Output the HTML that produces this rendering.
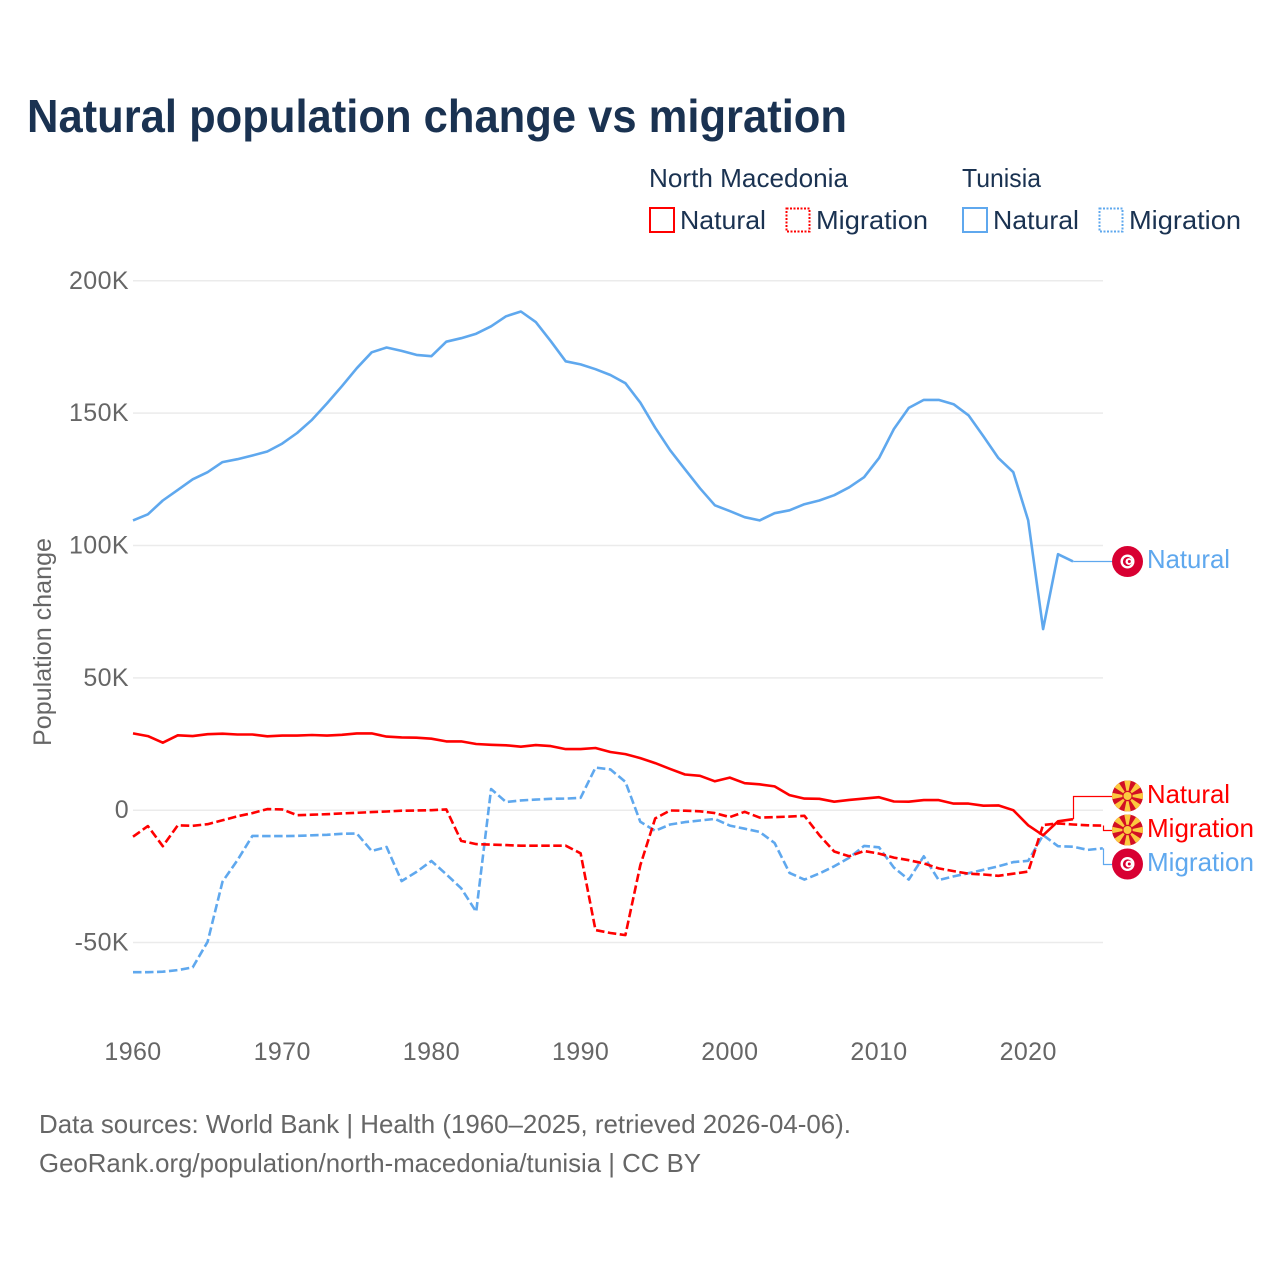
<!DOCTYPE html>
<html lang="en">
<head>
<meta charset="utf-8">
<title>Natural population change vs migration</title>
<style>
html,body{margin:0;padding:0;background:#fff;}
svg{display:block;font-family:"Liberation Sans",sans-serif;}
.grid{stroke:#ebebeb;stroke-width:1.5;}
.tick{fill:#666;font-size:25px;letter-spacing:.4px;}
.legend{fill:#1a3251;font-size:26px;}
.src{fill:#666;font-size:26px;}
.lab{font-size:26px;}
</style>
</head>
<body>
<svg id="chart" width="1280" height="1280" viewBox="0 0 1280 1280" xmlns="http://www.w3.org/2000/svg">
<defs>
  <clipPath id="flag-clip"><circle cx="0" cy="0" r="15.5"/></clipPath>
  <g id="flag-mk" clip-path="url(#flag-clip)">
    <rect x="-16" y="-16" width="32" height="32" fill="#d20f24"/>
    <g fill="#fcc93f">
      <polygon points="0,0 -3.4,-16 3.4,-16"/>
      <polygon points="0,0 -3.4,16 3.4,16"/>
      <polygon points="0,0 -16,-3.4 -16,3.4"/>
      <polygon points="0,0 16,-3.4 16,3.4"/>
      <polygon points="0,0 -13.7,-9 -9,-13.7"/>
      <polygon points="0,0 13.7,-9 9,-13.7"/>
      <polygon points="0,0 -13.7,9 -9,13.7"/>
      <polygon points="0,0 13.7,9 9,13.7"/>
    </g>
    <circle r="5.2" fill="#d20f24"/>
    <circle r="4" fill="#fcc93f"/>
  </g>
  <g id="flag-tn" clip-path="url(#flag-clip)">
    <rect x="-16" y="-16" width="32" height="32" fill="#d80032"/>
    <circle r="7" fill="#fff"/>
    <circle r="4.6" fill="#d80032"/>
    <circle cx="1.4" r="3.4" fill="#fff"/>
    <circle cx="1.8" r="1.5" fill="#d80032"/>
  </g>
</defs>

<text x="27" y="132" font-size="46" font-weight="700" fill="#1a3251" textLength="820" lengthAdjust="spacingAndGlyphs">Natural population change vs migration</text>

<g>
  <text class="legend" x="649" y="187" textLength="199" lengthAdjust="spacingAndGlyphs">North Macedonia</text>
  <text class="legend" x="962" y="187" textLength="79" lengthAdjust="spacingAndGlyphs">Tunisia</text>
  <rect x="650" y="208" width="24" height="24" fill="none" stroke="#ff0000" stroke-width="2"/>
  <text class="legend" x="680" y="229" textLength="86" lengthAdjust="spacingAndGlyphs">Natural</text>
  <rect x="786.5" y="208.5" width="23" height="23" fill="none" stroke="#ff0000" stroke-width="2" stroke-dasharray="2 1.5"/>
  <text class="legend" x="816" y="229" textLength="112" lengthAdjust="spacingAndGlyphs">Migration</text>
  <rect x="963" y="208" width="24" height="24" fill="none" stroke="#5fa8ee" stroke-width="2"/>
  <text class="legend" x="993" y="229" textLength="86" lengthAdjust="spacingAndGlyphs">Natural</text>
  <rect x="1099.5" y="208.5" width="23" height="23" fill="none" stroke="#5fa8ee" stroke-width="2" stroke-dasharray="2 1.5"/>
  <text class="legend" x="1129" y="229" textLength="112" lengthAdjust="spacingAndGlyphs">Migration</text>
</g>

<g id="grid-layer"></g>
<g id="ytick-layer"></g>
<g id="xtick-layer"></g>
<g id="line-layer"></g>

<text transform="translate(51,642) rotate(-90)" text-anchor="middle" font-size="25" fill="#666" textLength="208" lengthAdjust="spacingAndGlyphs">Population change</text>

<g>
  <use href="#flag-tn" x="1127.5" y="561.5"/>
  <text class="lab" x="1147" y="568" fill="#5fa8ee" textLength="83" lengthAdjust="spacingAndGlyphs">Natural</text>
  <use href="#flag-mk" x="1127.5" y="796"/>
  <text class="lab" x="1147" y="803" fill="#ff0000" textLength="83" lengthAdjust="spacingAndGlyphs">Natural</text>
  <use href="#flag-mk" x="1127.5" y="830"/>
  <text class="lab" x="1147" y="837" fill="#ff0000" textLength="107" lengthAdjust="spacingAndGlyphs">Migration</text>
  <use href="#flag-tn" x="1127.5" y="864"/>
  <text class="lab" x="1147" y="871" fill="#5fa8ee" textLength="107" lengthAdjust="spacingAndGlyphs">Migration</text>
</g>

<text class="src" x="39" y="1133" textLength="812" lengthAdjust="spacingAndGlyphs">Data sources: World Bank | Health (1960–2025, retrieved 2026-04-06).</text>
<text class="src" x="39" y="1172" textLength="662" lengthAdjust="spacingAndGlyphs">GeoRank.org/population/north-macedonia/tunisia | CC BY</text>

<script>
// Chart data, in thousands of people per year, starting 1960
var startYear = 1960;
var xTickYears = [1960, 1970, 1980, 1990, 2000, 2010, 2020];
var yTickValues = [200, 150, 100, 50, 0, -50];
var yTickLabels = ["200K", "150K", "100K", "50K", "0", "-50K"];

var tnNatural = [109.5,111.8,117,121,125,127.7,131.5,132.6,134,135.5,138.5,142.5,147.5,153.7,160.2,167,173,174.8,173.5,172,171.5,177,178.3,180,182.8,186.6,188.4,184.4,177.2,169.6,168.4,166.6,164.4,161.3,154,144.5,136,128.8,121.6,115.2,113,110.7,109.5,112.2,113.3,115.6,117,119,122,125.8,133,144,152,155,155,153.4,149.2,141.3,133,127.7,109.5,68.4,96.7,94];
var mkNatural = [29,28,25.5,28.3,28,28.7,28.9,28.6,28.6,27.9,28.2,28.2,28.4,28.2,28.5,29,29,27.8,27.5,27.4,27,26,26,25,24.7,24.5,24,24.6,24.2,23.1,23.1,23.5,22,21.2,19.7,17.8,15.6,13.5,13,10.9,12.3,10.2,9.8,9,5.7,4.4,4.3,3.2,3.9,4.4,4.9,3.3,3.2,3.8,3.8,2.5,2.5,1.7,1.8,0,-5.7,-9.5,-4.2,-3.4];
var mkMigration = [-10,-6,-13.6,-5.7,-5.9,-5.3,-3.8,-2.3,-1.1,0.4,0.3,-1.9,-1.7,-1.5,-1.2,-1,-0.7,-0.5,-0.2,-0.1,0,0.3,-11.6,-12.8,-13,-13.2,-13.4,-13.4,-13.4,-13.4,-16.3,-45.3,-46.4,-47.2,-20.8,-3.1,-0.1,-0.2,-0.4,-1.1,-2.6,-0.6,-2.8,-2.6,-2.4,-2.1,-9.4,-15.6,-17.4,-15.4,-16.4,-17.9,-18.9,-20.1,-22,-23,-24,-24.3,-24.8,-24,-23.2,-5.6,-5,-5.4,-5.7,-5.8];
var tnMigration = [-61.2,-61.2,-61,-60.4,-59.4,-49.7,-27,-18.9,-9.7,-9.8,-9.8,-9.7,-9.5,-9.3,-8.9,-8.8,-15.4,-13.9,-26.8,-23.3,-19.2,-24.2,-29.5,-38.4,8,3.1,3.7,4,4.3,4.4,4.7,16.1,15.4,10.7,-4.4,-7.8,-5.4,-4.5,-3.9,-3.3,-5.8,-7,-8.2,-12.4,-23.7,-26.2,-23.9,-21.2,-18,-13.5,-14,-21.7,-26.2,-17.4,-26.4,-25,-23.8,-22.5,-21.2,-19.6,-19.1,-9.4,-13.6,-13.8,-15,-14.4];

var NS = "http://www.w3.org/2000/svg";
function xScale(year) { return 133 + (year - 1960) * 14.92; }
function yScale(v) { return 810.2 - v * 2.647; }

var gridLayer = document.getElementById("grid-layer");
var yLayer = document.getElementById("ytick-layer");
var xLayer = document.getElementById("xtick-layer");
var lineLayer = document.getElementById("line-layer");

yTickValues.forEach(function (v, i) {
  var g = document.createElementNS(NS, "line");
  g.setAttribute("class", "grid");
  g.setAttribute("x1", 133);
  g.setAttribute("x2", 1103);
  g.setAttribute("y1", yScale(v));
  g.setAttribute("y2", yScale(v));
  
  
  gridLayer.appendChild(g);
  var t = document.createElementNS(NS, "text");
  t.setAttribute("class", "tick");
  t.setAttribute("x", 129);
  t.setAttribute("y", yScale(v) + 8);
  t.setAttribute("text-anchor", "end");
  t.textContent = yTickLabels[i];
  
  
  yLayer.appendChild(t);
});

xTickYears.forEach(function (yr) {
  var t = document.createElementNS(NS, "text");
  t.setAttribute("class", "tick");
  t.setAttribute("x", xScale(yr));
  t.setAttribute("y", 1060);
  t.setAttribute("text-anchor", "middle");
  t.textContent = String(yr);
  
  
  xLayer.appendChild(t);
});

function drawSeries(values, color, dash, name, labelY) {
  var pts = values.map(function (v, i) {
    return xScale(startYear + i).toFixed(1) + "," + yScale(v).toFixed(1);
  });
  var p = document.createElementNS(NS, "polyline");
  p.setAttribute("points", pts.join(" "));
  p.setAttribute("fill", "none");
  p.setAttribute("stroke", color);
  p.setAttribute("stroke-width", "2.6");
  p.setAttribute("stroke-linejoin", "round");
  if (dash) { p.setAttribute("stroke-dasharray", dash); }
  
  
  lineLayer.appendChild(p);
  // thin connector from the last point to the flag label, snapped to the pixel grid
  var ex = Math.round(xScale(startYear + values.length - 1)) + 0.5;
  var ey = yScale(values[values.length - 1]);
  var ly = Math.round(labelY) + 0.5;
  var c = document.createElementNS(NS, "polyline");
  c.setAttribute("points", ex + "," + ey + " " + ex + "," + ly + " 1112," + ly);
  c.setAttribute("fill", "none");
  c.setAttribute("stroke", color);
  c.setAttribute("stroke-width", "1.2");
  
  
  lineLayer.appendChild(c);
}

drawSeries(tnNatural, "#5fa8ee", null, "line-tunisia-natural", 561);
drawSeries(tnMigration, "#5fa8ee", "8.5 3.5", "line-tunisia-migration", 864);
drawSeries(mkNatural, "#ff0000", null, "line-north-macedonia-natural", 796);
drawSeries(mkMigration, "#ff0000", "8.5 3.5", "line-north-macedonia-migration", 830);
</script>
</svg>
</body>
</html>
